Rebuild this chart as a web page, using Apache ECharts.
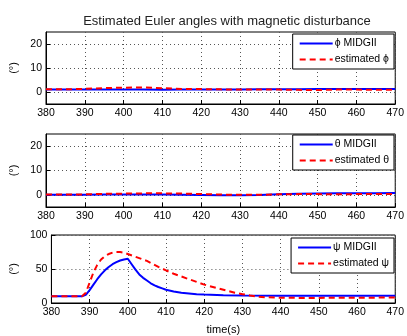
<!DOCTYPE html>
<html>
<head>
<meta charset="utf-8">
<script src="https://cdn.jsdelivr.net/npm/echarts@6/dist/echarts.min.js"></script>
<style>
  html, body { margin: 0; padding: 0; background: #fff; }
  #main { width: 407px; height: 336px; }
</style>
</head>
<body>
<div id="main"></div>
<script>
// time axis ticks
const timeMin = 380
const timeMax = 470

// roll / pitch sampled every 5 s
const attT = [380, 385, 390, 395, 400, 405, 410, 415, 420, 425, 430, 435, 440, 445, 450, 455, 460, 465, 470]
const phiMidg = [1, 1, 1, 1, 1, 1, 0.9, 1, 1, 1, 1, 1.1, 1.1, 1.1, 1.2, 1.2, 1.2, 1.2, 1.3]
const phiEst = [1.1, 1.1, 1.3, 1.6, 1.8, 1.9, 1.6, 1.3, 1.2, 1.1, 1, 1, 1, 0.9, 0.8, 1, 1, 0.9, 1]
const thetaMidg = [0, 0, 0, 0.1, 0.1, 0.1, 0.1, 0, -0.1, -0.2, -0.2, -0.1, 0.2, 0.4, 0.5, 0.6, 0.6, 0.7, 0.8]
const thetaEst = [0.1, 0.1, 0.2, 0.4, 0.5, 0.6, 0.6, 0.5, 0.3, 0.1, 0, 0, 0.2, 0.3, 0.3, 0.2, 0.3, 0.3, 0.3]

// yaw
const psiMidgT = [380, 388, 389, 390, 391, 392, 393, 394, 395, 396, 397, 398, 399, 400, 401, 402, 403, 404, 405, 406, 407, 408, 409, 410, 412, 414, 416, 418, 420, 425, 430, 440, 450, 460, 470]
const psiMidg = [10, 10, 12, 19, 27, 35, 42, 48, 53, 57, 60, 62.5, 64, 65, 57, 49, 42, 37, 33, 29, 26, 23.5, 21.5, 19.5, 17, 15, 14, 13, 12.5, 11.5, 11, 10.8, 10.8, 10.8, 10.8]
const psiEstT = [380, 388, 389, 390, 391, 392, 393, 394, 395, 396, 397, 398, 399, 400, 402, 404, 405, 406, 408, 410, 412, 414, 416, 418, 420, 422, 424, 426, 428, 430, 432, 434, 436, 440, 445, 450, 460, 470]
const psiEst = [10, 10, 15, 30, 45, 56, 64, 69, 72, 74, 75, 75, 74, 72, 68, 64, 62, 59, 53, 48, 43, 39, 35, 31, 27, 24, 21, 18, 15, 13, 11, 9.5, 8.5, 7.8, 7.5, 7.5, 7.8, 8]

const smallTicks = [0, 10, 20]
const psiTicks = [0, 50, 100]

const font = 'Liberation Sans, Arial, sans-serif'

function pairs(t, v) {
  return t.map((x, i) => [x, v[i]])
}

const grids = [
  { left: 46, right: 9, top: 32, height: 72 },
  { left: 46, right: 9, top: 134, height: 73 },
  { left: 46, right: 9, top: 235, height: 73 },
]

function makeX(i, withName) {
  return {
    type: 'value',
    gridIndex: i,
    min: timeMin,
    max: timeMax,
    interval: 10,
    name: withName ? 'time(s)' : '',
    nameLocation: 'middle',
    nameGap: 21,
    nameTextStyle: { color: '#000', fontSize: 11, fontFamily: font },
    axisLine: { show: true, onZero: false, lineStyle: { color: '#000', width: 1 } },
    axisTick: { show: true, inside: true, length: 4, lineStyle: { color: '#000' } },
    axisLabel: { color: '#000', fontSize: 10.5, fontFamily: font, margin: 4 },
    splitLine: { show: true, lineStyle: { color: '#555', type: [1, 3], width: 1 } },
  }
}

function makeY(i, min, max, ticks) {
  return {
    type: 'value',
    gridIndex: i,
    min: min,
    max: max,
    name: '(°)',
    nameLocation: 'middle',
    nameGap: 19,
    nameRotate: 90,
    nameTextStyle: { color: '#000', fontSize: 11, fontFamily: font },
    axisLine: { show: true, lineStyle: { color: '#000', width: 1 } },
    axisTick: { show: true, inside: true, length: 4, customValues: ticks, lineStyle: { color: '#000' } },
    axisLabel: { color: '#000', fontSize: 10.5, fontFamily: font, margin: 4, customValues: ticks },
    splitLine: { show: true, lineStyle: { color: '#555', type: [1, 3], width: 1 } },
  }
}

function makeLegend(top, names) {
  return {
    top: top,
    right: 13,
    orient: 'vertical',
    data: names,
    itemWidth: 33,
    itemHeight: 12,
    itemGap: 5,
    padding: [4, 5, 4, 6],
    borderColor: '#000',
    borderWidth: 1,
    backgroundColor: '#fff',
    itemStyle: { opacity: 0 },
    textStyle: { color: '#000', fontSize: 10.5, fontFamily: font, padding: [0, 0, 0, -3] },
  }
}

function blueLine(name, i, data) {
  return {
    name: name, type: 'line', xAxisIndex: i, yAxisIndex: i,
    symbol: 'none', showSymbol: false, data: data,
    lineStyle: { color: '#0000ff', width: 2 },
    itemStyle: { color: '#0000ff' },
  }
}

function redLine(name, i, data) {
  return {
    name: name, type: 'line', xAxisIndex: i, yAxisIndex: i,
    symbol: 'none', showSymbol: false, data: data,
    lineStyle: { color: '#ff0000', width: 2, type: [6, 4] },
    itemStyle: { color: '#ff0000' },
  }
}

const chartDom = document.getElementById('main')
const myChart = echarts.init(chartDom, null, { renderer: 'canvas' })

const option = {
  animation: false,
  backgroundColor: '#fff',
  title: {
    text: 'Estimated Euler angles with magnetic disturbance',
    left: 222,
    textAlign: 'center',
    top: 10,
    textStyle: { color: '#222', fontSize: 13, fontWeight: 'normal', fontFamily: font },
  },
  grid: grids.map(g => Object.assign({ show: true, borderColor: '#000', borderWidth: 1, backgroundColor: '#fff' }, g)),
  xAxis: [makeX(0, false), makeX(1, false), makeX(2, true)],
  yAxis: [makeY(0, -5, 25, smallTicks), makeY(1, -5, 25, smallTicks), makeY(2, 0, 100, psiTicks)],
  legend: [
    makeLegend(34, ['ϕ MIDGII', 'estimated ϕ']),
    makeLegend(135, ['θ MIDGII', 'estimated θ']),
    makeLegend(238, ['ψ MIDGII', 'estimated ψ']),
  ],
  series: [
    blueLine('ϕ MIDGII', 0, pairs(attT, phiMidg)),
    redLine('estimated ϕ', 0, pairs(attT, phiEst)),
    blueLine('θ MIDGII', 1, pairs(attT, thetaMidg)),
    redLine('estimated θ', 1, pairs(attT, thetaEst)),
    blueLine('ψ MIDGII', 2, pairs(psiMidgT, psiMidg)),
    redLine('estimated ψ', 2, pairs(psiEstT, psiEst)),
  ],
}

myChart.setOption(option)
</script>
</body>
</html>
